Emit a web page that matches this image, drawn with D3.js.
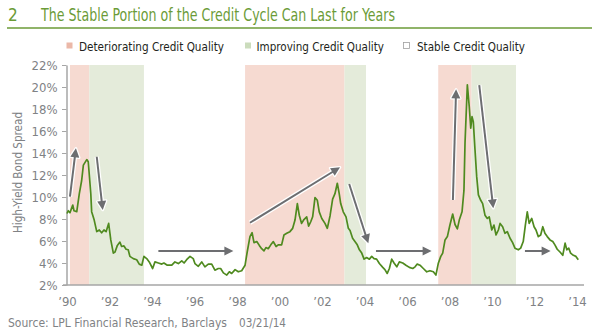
<!DOCTYPE html>
<html><head><meta charset="utf-8">
<script src="https://cdn.jsdelivr.net/npm/d3@7"></script>
<style>
html,body{margin:0;padding:0;background:#fff;}
svg{display:block;}
</style></head>
<body>
<script>
const years = [1990.00,1990.06,1990.14,1990.27,1990.33,1990.46,1990.58,1990.69,1990.77,1990.93,1991.00,1991.12,1991.16,1991.28,1991.40,1991.52,1991.63,1991.74,1991.84,1991.96,1992.06,1992.18,1992.26,1992.37,1992.49,1992.57,1992.68,1992.78,1992.88,1992.96,1993.12,1993.28,1993.40,1993.52,1993.62,1993.75,1993.87,1994.03,1994.14,1994.30,1994.46,1994.56,1994.72,1994.93,1995.08,1995.24,1995.40,1995.51,1995.63,1995.79,1995.94,1996.02,1996.18,1996.34,1996.49,1996.65,1996.81,1996.96,1997.12,1997.23,1997.36,1997.52,1997.64,1997.75,1997.91,1998.06,1998.22,1998.38,1998.48,1998.61,1998.71,1998.80,1998.93,1999.05,1999.16,1999.27,1999.36,1999.47,1999.59,1999.71,1999.84,1999.94,2000.10,2000.21,2000.34,2000.49,2000.62,2000.73,2000.84,2000.93,2001.04,2001.15,2001.28,2001.37,2001.47,2001.56,2001.67,2001.78,2001.87,2001.99,2002.14,2002.25,2002.38,2002.50,2002.61,2002.72,2002.81,2002.88,2003.00,2003.13,2003.24,2003.32,2003.44,2003.55,2003.66,2003.76,2003.87,2003.98,2004.10,2004.23,2004.34,2004.45,2004.57,2004.70,2004.86,2004.96,2005.07,2005.17,2005.28,2005.39,2005.52,2005.64,2005.80,2005.95,2006.11,2006.27,2006.38,2006.48,2006.61,2006.77,2006.93,2007.08,2007.24,2007.36,2007.47,2007.59,2007.68,2007.79,2007.90,2008.02,2008.15,2008.26,2008.37,2008.46,2008.59,2008.68,2008.73,2008.84,2008.93,2009.00,2009.06,2009.12,2009.20,2009.28,2009.36,2009.47,2009.56,2009.67,2009.78,2009.87,2009.99,2010.09,2010.19,2010.30,2010.38,2010.50,2010.61,2010.72,2010.85,2010.97,2011.08,2011.24,2011.35,2011.47,2011.57,2011.66,2011.75,2011.87,2011.98,2012.07,2012.18,2012.29,2012.39,2012.49,2012.60,2012.73,2012.86,2012.96,2013.07,2013.20,2013.33,2013.44,2013.52,2013.61,2013.70,2013.83,2013.95,2014.06];
const spread = [8.5,8.75,8.57,9.27,8.75,8.67,10.3,11.5,12.9,13.4,13.2,10.3,8.67,7.9,6.85,7.0,6.75,7.0,6.85,7.6,6.1,4.9,5.0,5.6,5.9,5.5,5.55,5.25,5.2,4.6,4.4,4.3,3.9,3.8,4.6,4.4,4.1,3.5,4.1,4.0,3.9,4.0,3.8,3.8,4.1,3.95,4.2,4.0,4.3,4.6,4.4,3.95,3.7,4.1,3.65,3.9,3.9,3.35,3.5,3.5,3.1,2.9,3.2,3.05,3.4,3.2,3.3,3.8,5.0,6.4,6.75,5.85,5.95,5.6,5.3,5.1,5.4,5.3,5.65,5.95,5.5,5.65,5.65,6.55,6.7,6.85,7.15,7.9,9.4,8.35,7.6,7.95,8.2,7.35,7.75,8.2,9.95,9.7,8.65,8.05,7.6,7.15,8.3,9.8,10.3,11.25,10.3,9.4,8.65,8.2,7.15,6.95,6.25,5.95,5.65,5.2,4.9,4.35,4.5,4.35,4.6,4.4,4.35,3.95,3.6,3.4,3.05,3.5,4.35,4.0,3.65,4.1,4.0,3.8,3.6,3.5,3.65,3.9,3.8,3.5,3.2,3.3,3.2,2.9,3.95,4.6,4.9,6.1,6.4,7.45,8.45,7.5,7.1,7.9,8.65,10.6,14.9,20.2,18.2,16.25,17.3,16.85,14.3,11.85,10.2,9.7,9.4,8.35,8.05,8.2,7.0,7.45,6.55,7.0,7.6,7.3,6.7,6.85,6.25,5.85,5.35,5.2,5.35,5.95,7.45,8.65,7.6,8.05,7.3,7.0,6.4,6.55,7.3,6.7,6.4,6.1,5.95,5.65,5.25,5.0,4.7,5.8,5.2,5.35,4.9,4.7,4.6,4.3];

const periodStart = [1990.14, 1991.05, 1998.38, 2003.06, 2007.47, 2009.04];
const periodEnd   = [1991.05, 1993.62, 2003.06, 2004.07, 2009.04, 2011.13];
const periodType  = ["det", "imp", "det", "imp", "det", "imp"];

const arrowX1 = [1990.14, 1991.40, 1994.30, 1998.61, 2003.28, 2004.54, 2008.16, 2009.40, 2011.55];
const arrowY1 = [10.03, 13.66, 5.09, 7.66, 11.18, 5.09, 9.73, 20.18, 5.09];
const arrowX2 = [1990.42, 1991.68, 1997.83, 2002.85, 2004.18, 2007.16, 2008.31, 2010.06, 2012.76];
const arrowY2 = [14.43, 8.82, 5.09, 12.70, 5.79, 5.09, 19.79, 8.97, 5.09];

const yTicks = [2,4,6,8,10,12,14,16,18,20,22];
const xTicks = [1990,1992,1994,1996,1998,2000,2002,2004,2006,2008,2010,2012,2014];
const xTickLabels = ["’90","’92","’94","’96","’98","’00","’02","’04","’06","’08","’10","’12","’14"];

const legendLabels = ["Deteriorating Credit Quality","Improving Credit Quality","Stable Credit Quality"];
const titleNum = "2";
const titleText = "The Stable Portion of the Credit Cycle Can Last for Years";
const yTitle = "High-Yield Bond Spread";
const sourceText = "Source: LPL Financial Research, Barclays";
const dateText = "03/21/14";

const FONT = "'Liberation Sans Narrow','Arial Narrow','DejaVu Sans Condensed',sans-serif";
const colors = {det:"#f6dad1", imp:"#e4ebda", detKey:"#ebb8a8", impKey:"#cbdcbc", line:"#4f8a1f", green:"#6b9b37", arrow:"#6d6e71", axis:"#a6a6a6", tick:"#808285", text:"#231f20"};

const W = 600, H = 336;
const svg = d3.select("body").append("svg").attr("width", W).attr("height", H)
  .style("font-family", FONT);

const x = d3.scaleLinear().domain([1990, 2014]).range([67, 577]);
const y = d3.scaleLinear().domain([2, 22]).range([285, 65]);

// Title
svg.append("text").attr("x", 8).attr("y", 20.7).attr("font-size", 17).attr("fill", colors.green).text(titleNum);
svg.append("text").attr("x", 41).attr("y", 20.7).attr("font-size", 17).attr("fill", colors.green)
  .attr("textLength", 354).attr("lengthAdjust", "spacingAndGlyphs").text(titleText);
svg.append("line").attr("x1", 7).attr("x2", 592).attr("y1", 28).attr("y2", 28)
  .attr("stroke", colors.green).attr("stroke-width", 1.5);

// Legend
const legX = [66.5, 245, 403.5];
const legTX = [79, 256.5, 417];
const legTW = [145, 127.5, 108];
const legFill = [colors.detKey, colors.impKey, "#fff"];
legendLabels.forEach((l, i) => {
  svg.append("rect").attr("x", legX[i]).attr("y", 42.5).attr("width", 6).attr("height", 6)
    .attr("fill", legFill[i]).attr("stroke", i === 2 ? "#a0a0a0" : "none").attr("stroke-width", 0.8);
  svg.append("text").attr("x", legTX[i]).attr("y", 50.7).attr("font-size", 12.5).attr("fill", colors.text)
    .attr("textLength", legTW[i]).attr("lengthAdjust", "spacingAndGlyphs").text(l);
});

// Shaded periods
svg.append("g").selectAll("rect").data(periodStart).join("rect")
  .attr("x", (d) => x(d))
  .attr("width", (d, i) => x(periodEnd[i]) - x(d))
  .attr("y", y(22)).attr("height", y(2) - y(22))
  .attr("fill", (d, i) => periodType[i] === "det" ? colors.det : colors.imp);

// Y axis
const yAxis = svg.append("g").attr("transform", "translate(66.5,0)")
  .call(d3.axisLeft(y).tickValues(yTicks).tickFormat(d => d + "%").tickSize(4.5).tickPadding(4.5).tickSizeOuter(0));
yAxis.select(".domain").attr("stroke", colors.axis).attr("stroke-width", 1.5);
yAxis.selectAll(".tick line").attr("stroke", colors.axis);
yAxis.selectAll(".tick text").attr("fill", colors.tick).attr("font-size", 13).attr("font-family", FONT);

// X axis
svg.append("line").attr("x1", 63).attr("x2", 584).attr("y1", 285).attr("y2", 285)
  .attr("stroke", colors.axis).attr("stroke-width", 1.5);
const xAxis = svg.append("g").attr("transform", "translate(0,285)")
  .call(d3.axisBottom(x).tickValues(xTicks).tickFormat((d, i) => xTickLabels[i]).tickSize(0).tickPadding(12));
xAxis.select(".domain").remove();
xAxis.selectAll(".tick text").attr("fill", colors.tick).attr("font-size", 13).attr("font-family", FONT);

// Y title
svg.append("text").attr("transform", "translate(21.5,172.5) rotate(-90)")
  .attr("text-anchor", "middle").attr("font-size", 13).attr("fill", colors.tick)
  .attr("textLength", 121).attr("lengthAdjust", "spacingAndGlyphs").text(yTitle);

// Line
const pts = years.map((d, i) => [d, spread[i]]);
svg.append("path").datum(pts)
  .attr("d", d3.line().x(d => x(d[0])).y(d => y(d[1])))
  .attr("fill", "none").attr("stroke", colors.line).attr("stroke-width", 1.7).attr("stroke-linejoin", "round");

// Arrows
const ag = svg.append("g");
arrowX1.forEach((d, i) => {
  const x1 = x(d), y1 = y(arrowY1[i]), x2 = x(arrowX2[i]), y2 = y(arrowY2[i]);
  const ang = Math.atan2(y2 - y1, x2 - x1);
  const hl = 9, hw = 4.5;
  const bx = x2 - hl * Math.cos(ang), by = y2 - hl * Math.sin(ang);
  const px = -Math.sin(ang), py = Math.cos(ang);
  const head = [[x2, y2], [bx + hw * px, by + hw * py], [bx - hw * px, by - hw * py]];
  const shaft = [[x1, y1], [bx + 1 * Math.cos(ang), by + 1 * Math.sin(ang)]];
  ag.append("path").attr("d", d3.line()(shaft)).attr("stroke", "#fff").attr("stroke-width", 4.5).attr("fill", "none");
  ag.append("path").attr("d", d3.line()(head) + "Z").attr("fill", "#fff").attr("stroke", "#fff").attr("stroke-width", 2.5).attr("stroke-linejoin", "round");
  ag.append("path").attr("d", d3.line()(shaft)).attr("stroke", colors.arrow).attr("stroke-width", 2).attr("fill", "none");
  ag.append("path").attr("d", d3.line()(head) + "Z").attr("fill", colors.arrow);
});

// Source
svg.append("text").attr("x", 8).attr("y", 326.7).attr("font-size", 12.5).attr("fill", colors.tick)
  .attr("textLength", 219).attr("lengthAdjust", "spacingAndGlyphs").text(sourceText);
svg.append("text").attr("x", 239).attr("y", 326.7).attr("font-size", 12.5).attr("fill", colors.tick)
  .attr("textLength", 47).attr("lengthAdjust", "spacingAndGlyphs").text(dateText);
</script>
</body></html>
